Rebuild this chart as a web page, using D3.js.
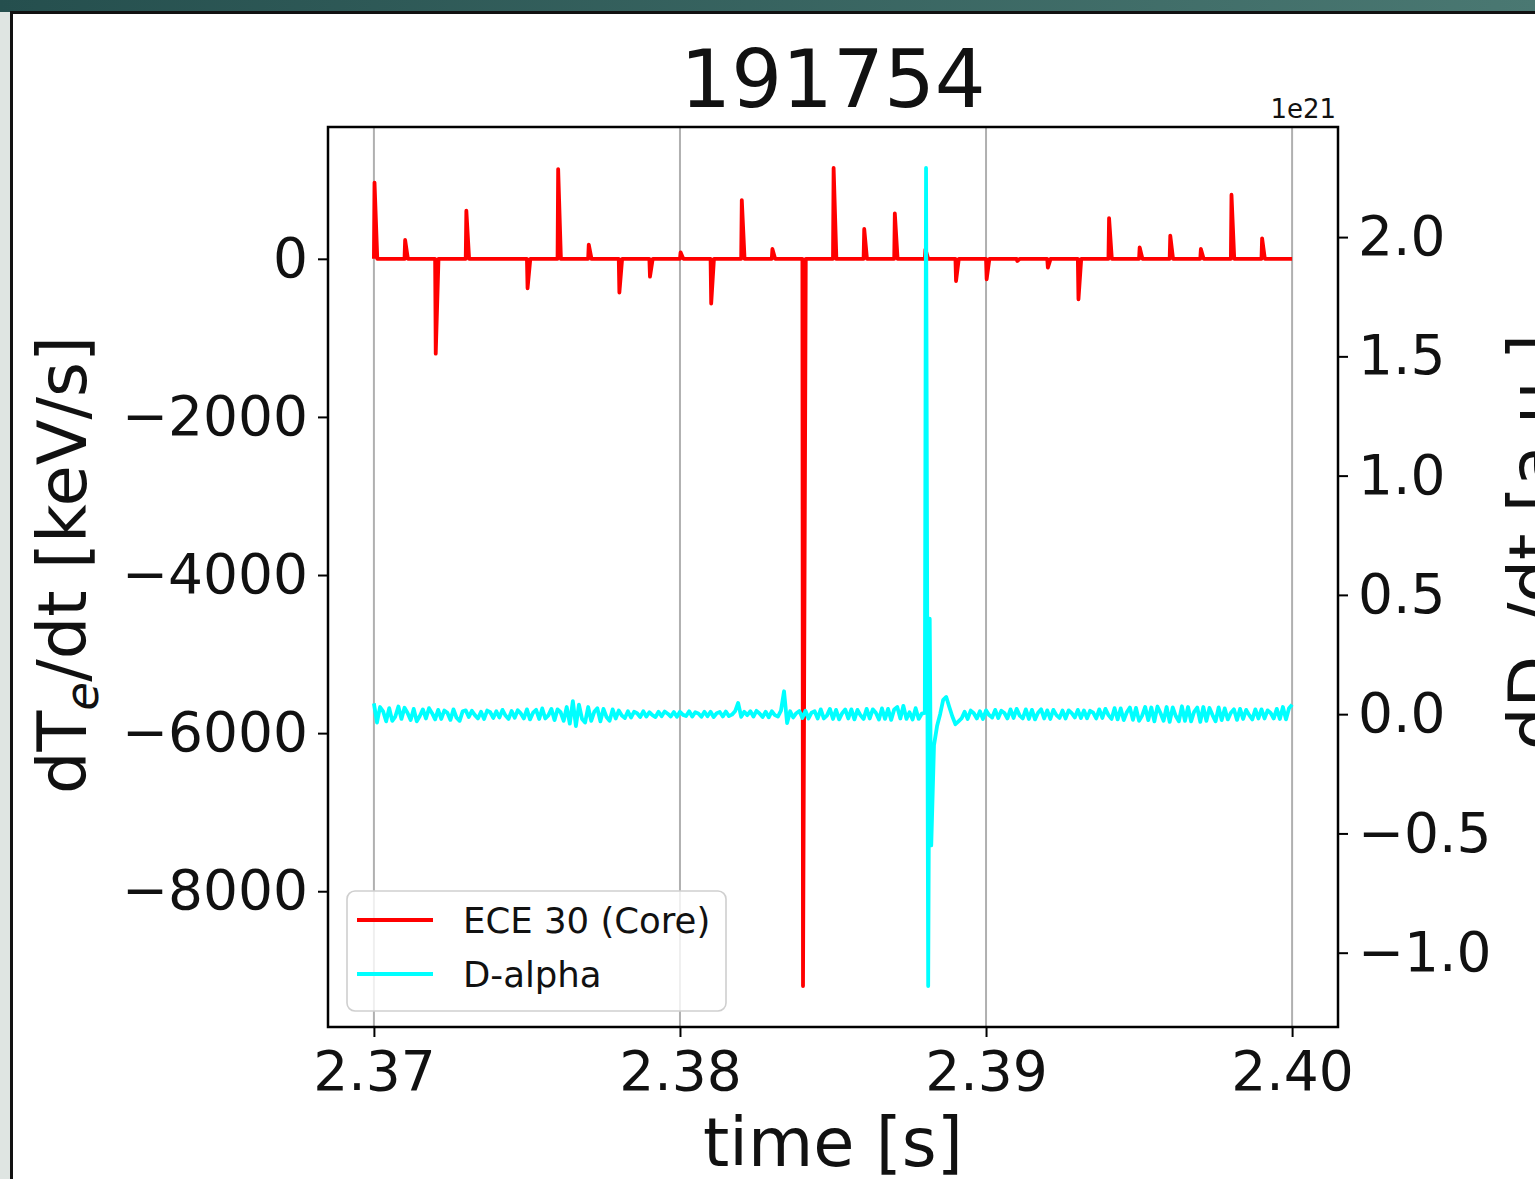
<!DOCTYPE html>
<html>
<head>
<meta charset="utf-8">
<script src="https://cdn.jsdelivr.net/npm/d3@7"></script>
<style>
  html, body { margin: 0; padding: 0; background: #fff; overflow: hidden; }
  svg { display: block; }
  text { font-family: "DejaVu Sans", sans-serif; fill: #111; }
</style>
</head>
<body>
<svg id="fig" width="1535" height="1179"></svg>
<script>
// ---- data -------------------------------------------------------------
const shotNumber = "191754";
const timeTicks = [2.37, 2.38, 2.39, 2.40];
const eceTicks = [-8000, -6000, -4000, -2000, 0];
const dAlphaTicks = [-1.0, -0.5, 0.0, 0.5, 1.0, 1.5, 2.0];
const dAlphaExponent = "1e21";

// ECE channel 30 time derivative (keV/s): non-zero only at each 1 ms sample step
const eceSpan = [2.370, 2.400];
const eceSpikeTime = [2.370, 2.371, 2.372, 2.373, 2.375, 2.376, 2.377, 2.378, 2.379, 2.380,
                      2.381, 2.382, 2.383, 2.384, 2.385, 2.386, 2.387, 2.388, 2.389, 2.390,
                      2.391, 2.392, 2.393, 2.394, 2.395, 2.396, 2.397, 2.398, 2.399];
const eceSpikeRate = [965, 238, -1200, 609, -373, 1135, 179, -427, -225, 82,
                      -566, 743, 124, -9200, 1150, 377, 575, 120, -281, -259,
                      -28, -111, -512, 516, 145, 293, 124, 811, 259];
// rise / fall of each step, seconds
const eceStepRise = 0.00002;
const eceStepFall = 0.00011;

// D-alpha time derivative (units of 1e21), sampled every 0.1 ms
const dAlphaStep = 0.0001;
const dAlphaPreStart = 2.3700;   // 2.3700 .. 2.3879
const dAlphaPre = [
  0.045, -0.035, 0.030, 0.012, -0.030, 0.025, -0.028, -0.010, 0.032, -0.020,
  0.027, 0.005, -0.025, 0.022, -0.030, -0.008, 0.020, -0.018, 0.025, 0.004,
  -0.022, 0.018, -0.020, 0.015, 0.006, -0.024, 0.020, -0.015, -0.028, 0.012,
  0.016, -0.012, 0.014, -0.004, -0.018, 0.010, -0.020, 0.015, 0.008, -0.016,
  0.012, -0.014, 0.018, -0.006, -0.020, 0.013, -0.015, 0.016, 0.003, -0.018,
  0.020, -0.022, 0.006, 0.018, -0.020, 0.024, -0.018, -0.005, 0.022, -0.025,
  0.020, 0.008, -0.028, 0.030, -0.040, 0.055, -0.050, 0.040, -0.020, -0.035,
  0.030, -0.028, 0.010, 0.025, -0.030, 0.022, -0.012, -0.028, 0.020, -0.018,
  0.015, -0.006, -0.016, 0.012, -0.014, 0.010, 0.004, -0.012, 0.012, -0.010,
  0.008, -0.004, -0.012, 0.010, -0.009, 0.011, 0.002, -0.010, 0.009, -0.011,
  0.010, -0.003, -0.008, 0.012, -0.010, 0.008, 0.003, -0.011, 0.010, -0.009,
  0.010, -0.012, 0.004, 0.009, -0.010, 0.011, -0.008, -0.002, 0.012, 0.047,
  -0.011, 0.010, -0.004, 0.012, -0.010, 0.014, 0.003, -0.012, 0.010, -0.013,
  0.012, -0.004, -0.010, 0.015, 0.096, -0.037, 0.012, -0.014, 0.004, 0.013,
  -0.016, 0.014, -0.018, 0.006, 0.012, -0.018, 0.020, -0.018, -0.006, 0.022,
  -0.020, 0.018, -0.022, 0.004, 0.020, -0.018, 0.020, -0.022, 0.018, -0.005,
  -0.020, 0.022, -0.018, 0.020, 0.006, -0.022, 0.024, -0.020, 0.022, -0.024,
  0.020, 0.030, -0.018, 0.035, -0.020, 0.008, -0.022, 0.025, -0.020, 0.002
];
// ELM burst, finer time resolution
const dAlphaBurstTime  = [2.38800, 2.38804, 2.38811, 2.38816, 2.38821, 2.38830];
const dAlphaBurstValue = [0.005, 2.29, -1.14, 0.40, -0.55, -0.13];
const dAlphaPostStart = 2.3884;  // 2.3884 .. 2.4000
const dAlphaPost = [
  -0.050, 0.000, 0.060, 0.072, 0.030, -0.010, -0.042, -0.030, -0.018, 0.010,
  -0.020, 0.015, 0.004, -0.018, 0.012, -0.020, 0.016, -0.004, -0.014, 0.018,
  -0.016, 0.014, 0.005, -0.018, 0.020, -0.016, 0.022, -0.006, -0.018, 0.020,
  -0.020, 0.018, -0.022, 0.006, 0.020, -0.018, 0.016, -0.020, 0.018, -0.004,
  -0.016, 0.015, -0.018, 0.016, 0.004, -0.014, 0.018, -0.016, 0.015, -0.017,
  0.014, 0.006, -0.018, 0.020, -0.016, 0.022, -0.004, -0.020, 0.025, -0.022,
  0.024, -0.025, 0.008, 0.028, -0.024, 0.026, -0.028, -0.006, 0.030, -0.025,
  0.028, -0.030, 0.032, 0.005, -0.028, 0.030, -0.032, 0.028, -0.008, -0.030,
  0.033, -0.028, 0.030, -0.030, 0.010, 0.028, -0.032, 0.030, -0.028, 0.026,
  -0.004, -0.030, 0.028, -0.025, 0.024, -0.022, 0.006, 0.020, -0.024, 0.022,
  -0.020, 0.018, -0.004, -0.022, 0.020, -0.018, 0.020, -0.018, 0.016, 0.005,
  -0.018, 0.022, -0.020, 0.030, -0.022, 0.025, 0.040
];

const seriesNames = ["ECE 30 (Core)", "D-alpha"];
const seriesColors = ["#ff0000", "#00ffff"];

// ---- build line samples ----------------------------------------------------
const ecePoints = [[eceSpan[0], 0]];
eceSpikeTime.forEach((t, i) => {
  ecePoints.push([t, 0], [t + eceStepRise, eceSpikeRate[i]], [t + eceStepFall, 0]);
});
ecePoints.push([eceSpan[1], 0]);

const dAlphaPoints = [];
dAlphaPre.forEach((v, i) => dAlphaPoints.push([dAlphaPreStart + i * dAlphaStep, v]));
dAlphaBurstTime.forEach((t, i) => dAlphaPoints.push([t, dAlphaBurstValue[i]]));
dAlphaPost.forEach((v, i) => dAlphaPoints.push([dAlphaPostStart + i * dAlphaStep, v]));

// ---- layout --------------------------------------------------------------
const W = 1535, H = 1179;
const ax = { left: 328, right: 1338, top: 127, bottom: 1027 };
const tickFont = 55, labelFont = 67;

// autoscale with 5% margins
function padded(ext) {
  const m = (ext[1] - ext[0]) * 0.05;
  return [ext[0] - m, ext[1] + m];
}
const x = d3.scaleLinear()
  .domain(padded([eceSpan[0], eceSpan[1]]))
  .range([ax.left, ax.right]);
const yL = d3.scaleLinear()
  .domain(padded(d3.extent(ecePoints, d => d[1])))
  .range([ax.bottom, ax.top]);
const yR = d3.scaleLinear()
  .domain(padded(d3.extent(dAlphaPoints, d => d[1])))
  .range([ax.bottom, ax.top]);

const minus = s => s.replace("-", "\u2212");

const svg = d3.select("#fig");

// window chrome
const defs = svg.append("defs");
const grad = defs.append("linearGradient").attr("id", "banner").attr("x1", 0).attr("x2", 1).attr("y1", 0).attr("y2", 0);
grad.append("stop").attr("offset", 0).attr("stop-color", "#254f4e");
grad.append("stop").attr("offset", 1).attr("stop-color", "#4a7872");
defs.append("clipPath").attr("id", "plotArea")
  .append("rect").attr("x", ax.left).attr("y", ax.top)
  .attr("width", ax.right - ax.left).attr("height", ax.bottom - ax.top);

svg.append("rect").attr("width", W).attr("height", H).attr("fill", "#fff");
svg.append("rect").attr("x", 0).attr("y", 0).attr("width", 10).attr("height", H).attr("fill", "#dfe5e2");
svg.append("rect").attr("x", 0).attr("y", 0).attr("width", W).attr("height", 12).attr("fill", "url(#banner)");
svg.append("rect").attr("x", 10).attr("y", 11).attr("width", W - 10).attr("height", 3).attr("fill", "#111");
svg.append("rect").attr("x", 10).attr("y", 11).attr("width", 3).attr("height", H - 11).attr("fill", "#111");

// vertical grid
svg.append("g").selectAll("line").data(timeTicks).join("line")
  .attr("x1", d => x(d)).attr("x2", d => x(d))
  .attr("y1", ax.top).attr("y2", ax.bottom)
  .attr("stroke", "#b0b0b0").attr("stroke-width", 2);

// series
const lineL = d3.line().x(d => x(d[0])).y(d => yL(d[1]));
const lineR = d3.line().x(d => x(d[0])).y(d => yR(d[1]));
const plot = svg.append("g").attr("clip-path", "url(#plotArea)");
plot.append("path").datum(ecePoints).attr("d", lineL)
  .attr("fill", "none").attr("stroke", seriesColors[0]).attr("stroke-width", 3.8)
  .attr("stroke-linejoin", "round").attr("stroke-linecap", "butt");
plot.append("path").datum(dAlphaPoints).attr("d", lineR)
  .attr("fill", "none").attr("stroke", seriesColors[1]).attr("stroke-width", 3.8)
  .attr("stroke-linejoin", "round").attr("stroke-linecap", "butt");

// axes
function styleAxis(g) {
  g.select(".domain").remove();
  g.selectAll(".tick line").attr("stroke", "#000").attr("stroke-width", 2);
  g.selectAll(".tick text").attr("font-size", tickFont).attr("fill", "#111")
    .attr("font-family", "DejaVu Sans, sans-serif");
}
svg.append("g").attr("transform", `translate(0,${ax.bottom})`)
  .call(d3.axisBottom(x).tickValues(timeTicks).tickFormat(d3.format(".2f"))
        .tickSize(10).tickPadding(14))
  .call(styleAxis);
svg.append("g").attr("transform", `translate(${ax.left},0)`)
  .call(d3.axisLeft(yL).tickValues(eceTicks).tickFormat(d => minus(d3.format("d")(d)))
        .tickSize(10).tickPadding(10))
  .call(styleAxis);
svg.append("g").attr("transform", `translate(${ax.right},0)`)
  .call(d3.axisRight(yR).tickValues(dAlphaTicks).tickFormat(d => minus(d3.format(".1f")(d)))
        .tickSize(10).tickPadding(10))
  .call(styleAxis);

// frame
svg.append("rect").attr("x", ax.left).attr("y", ax.top)
  .attr("width", ax.right - ax.left).attr("height", ax.bottom - ax.top)
  .attr("fill", "none").attr("stroke", "#000").attr("stroke-width", 2.5);

// offset text of right axis
svg.append("text").attr("x", ax.right - 2).attr("y", 118)
  .attr("text-anchor", "end").attr("font-size", 26).text(dAlphaExponent);

// title
svg.append("text").attr("x", (ax.left + ax.right) / 2).attr("y", 107)
  .attr("text-anchor", "middle").attr("font-size", 80).text(shotNumber);

// x label
svg.append("text").attr("x", (ax.left + ax.right) / 2).attr("y", 1166)
  .attr("text-anchor", "middle").attr("font-size", labelFont).text("time [s]");

// left y label
const yl = svg.append("text").attr("transform", "translate(86,565) rotate(-90)")
  .attr("text-anchor", "middle").attr("font-size", labelFont);
yl.append("tspan").text("dT");
yl.append("tspan").attr("font-size", labelFont * 0.7).attr("font-style", "italic")
  .attr("dy", 12).text("e");
yl.append("tspan").attr("dy", -12).text("/dt [keV/s]");

// right y label
const yr = svg.append("text").attr("transform", "translate(1557,542) rotate(-90)")
  .attr("text-anchor", "middle").attr("font-size", labelFont);
yr.append("tspan").text("dD");
yr.append("tspan").attr("font-size", labelFont * 0.7).attr("font-style", "italic")
  .attr("dy", 12).text("\u03b1");
yr.append("tspan").attr("dy", -12).text("/dt [a.u.]");

// legend
const lg = svg.append("g");
lg.append("rect").attr("x", 347).attr("y", 891).attr("width", 379).attr("height", 120)
  .attr("rx", 8).attr("fill", "#fff").attr("fill-opacity", 0.8)
  .attr("stroke", "#cfcfcf").attr("stroke-width", 1.6);
seriesNames.forEach((name, i) => {
  const yy = 920 + i * 54;
  lg.append("line").attr("x1", 357).attr("x2", 433).attr("y1", yy).attr("y2", yy)
    .attr("stroke", seriesColors[i]).attr("stroke-width", 3.8);
  lg.append("text").attr("x", 463).attr("y", yy + 13).attr("font-size", 35.5)
    .attr("fill", "#1a1a1a").text(name);
});
</script>
</body>
</html>
